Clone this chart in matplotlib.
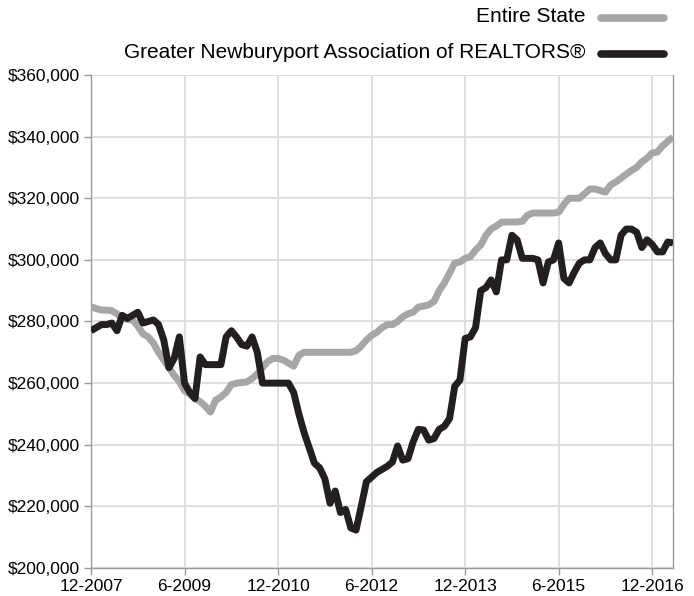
import numpy as np
import matplotlib
matplotlib.use('Agg')
import matplotlib.pyplot as plt
from matplotlib.lines import Line2D
from matplotlib.ticker import FuncFormatter

plt.rcParams['font.family'] = ['Liberation Sans', 'DejaVu Sans']

# monthly median prices in $1000s, 12-2007 .. 4-2017
state = [284.8, 284.2, 283.7, 283.7, 283.5, 282.5, 281, 280.7, 280.5, 278.5,
         276, 275, 273, 270, 267.5, 265, 262.5, 260.5, 257.5, 256.5,
         255, 254, 252.5, 250.6, 254.5, 255.5, 257, 259.5, 260, 260.2,
         260.4, 261.5, 263, 265, 267, 268, 268, 267.5, 266.5, 265.5,
         269, 270, 270, 270, 270, 270, 270, 270, 270, 270,
         270, 270.5, 272, 274, 275.5, 276.5, 278, 279, 279, 280,
         281.5, 282.5, 283, 284.7, 285, 285.4, 286.5, 290, 292.5, 295.7,
         299, 299.3, 300.5, 301, 303.2, 304.8, 308, 310, 311, 312.2,
         312.3, 312.3, 312.3, 312.5, 314.5, 315.2, 315.2, 315.2, 315.2, 315.2,
         315.5, 318, 320, 320, 320, 321.5, 323, 323, 322.5, 322,
         324.3, 325.3, 326.5, 327.8, 329, 330, 331.8, 333, 334.7, 335,
         337, 338.5, 339.8]

newburyport = [277, 278, 279, 279, 279.5, 277, 282, 281, 282, 283,
               279.5, 280, 280.5, 279, 274, 265, 268, 275, 260, 257,
               255, 268.5, 266, 266, 266, 266, 275, 277, 275, 272.5,
               272, 275, 270, 260, 260, 260, 260, 260, 260, 257,
               250, 244, 239, 234, 232.5, 229, 221, 225, 218, 219,
               213, 212.3, 220, 228, 229.5, 231, 232, 233, 234.4, 239.6,
               235, 235.5, 241, 245, 244.8, 241.5, 242, 245, 246, 248.5,
               259, 261, 274.5, 275, 278, 290, 291, 293.5, 289.6, 300,
               300, 308, 306.5, 300.5, 300.5, 300.5, 300, 292.5, 299.3, 300,
               305.5, 294, 292.5, 296, 299, 300, 300, 304, 305.5, 302,
               300, 300, 308, 310, 310, 309, 304, 306.5, 305, 302.6,
               302.6, 305.8, 305.5]

tick_labels = ['12-2007', '6-2009', '12-2010', '6-2012', '12-2013', '6-2015', '12-2016']

state = np.array(state) * 1000
newburyport = np.array(newburyport) * 1000
months = np.arange(len(state))

gray = '#a6a6a6'
black = '#231f20'

fig = plt.figure(figsize=(6.94, 5.96), dpi=100)
ax = fig.add_axes([91/694, 1 - 568/596, (673-91)/694, (568-75)/596])

ax.plot(months, state, color=gray, lw=5, solid_joinstyle='round', solid_capstyle='butt', zorder=3)
ax.plot(months, newburyport, color=black, lw=5, solid_joinstyle='round', solid_capstyle='butt', zorder=4)

ax.set_xlim(0, len(state) - 1)
ax.set_ylim(200000, 360000)
ax.set_xticks(np.arange(0, 109, 18))
ax.set_xticklabels(tick_labels)
ax.set_yticks(np.arange(200000, 360001, 20000))
ax.yaxis.set_major_formatter(FuncFormatter(lambda v, p: f'${v:,.0f}'))
ax.tick_params(axis='both', labelsize=12.5, length=5, width=1, color='#999999', labelcolor='black')
ax.tick_params(axis='x', pad=3)
ax.tick_params(axis='y', pad=3)

ax.grid(True, color='#dcdcdc', lw=1.3, zorder=0)
ax.set_axisbelow(True)
for s in ax.spines.values():
    s.set_color('#999999')
    s.set_linewidth(1)
ax.spines['top'].set_visible(False)

# legend drawn at the top right
leg = [('Entire State', gray, 17), ('Greater Newburyport Association of REALTORS®', black, 53)]
for label, col, ypx in leg:
    yf = 1 - ypx / 596
    fig.text(585/694, yf, label, ha='right', va='center', fontsize=15)
    fig.add_artist(Line2D([601/694, 664/694], [yf - 1/596, yf - 1/596], color=col, lw=5.5,
                          solid_capstyle='round', transform=fig.transFigure))

fig.savefig('out.png', dpi=100)
